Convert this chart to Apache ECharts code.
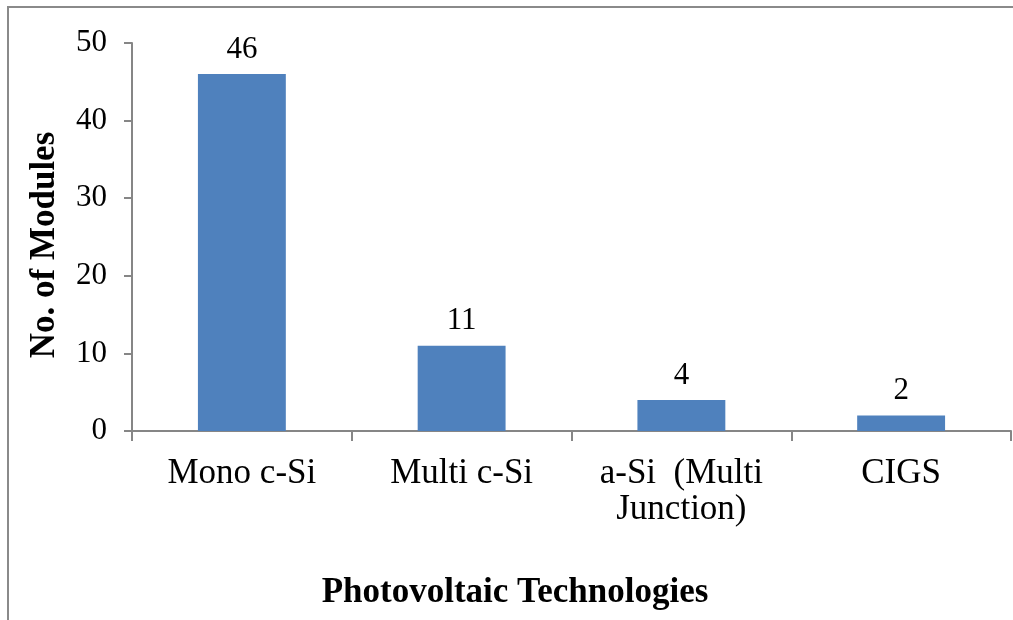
<!DOCTYPE html>
<html>
<head>
<meta charset="utf-8">
<script src="https://cdn.jsdelivr.net/npm/echarts@6/dist/echarts.min.js"></script>
<style>
html,body{margin:0;padding:0;background:#fff;}
#chart{width:1013px;height:620px;}
</style>
</head>
<body>
<div id="chart"></div>
<script>
const categories = ['Mono c-Si', 'Multi c-Si', 'a-Si  (Multi\nJunction)', 'CIGS'];
const moduleCounts = [46, 11, 4, 2];
const yTickValues = [0, 10, 20, 30, 40, 50];
const xTitle = 'Photovoltaic Technologies';
const yTitle = 'No. of Modules';

const FONT = 'Liberation Serif';
const chart = echarts.init(document.getElementById('chart'));
chart.setOption({
  animation: false,
  backgroundColor: '#ffffff',
  grid: { left: 132, right: 2, top: 43, bottom: 189, containLabel: false },
  xAxis: {
    type: 'category',
    data: categories,
    axisLine: { lineStyle: { color: '#868686', width: 2 } },
    axisTick: { show: true, length: 10, lineStyle: { color: '#868686', width: 2 } },
    axisLabel: { fontFamily: FONT, fontSize: 35, color: '#000', margin: 25, lineHeight: 36, interval: 0 }
  },
  yAxis: {
    type: 'value',
    min: yTickValues[0],
    max: yTickValues[yTickValues.length - 1],
    interval: 10,
    splitLine: { show: false },
    axisLine: { show: true, lineStyle: { color: '#868686', width: 2 } },
    axisTick: { show: true, length: 8, lineStyle: { color: '#868686', width: 2 } },
    axisLabel: { fontFamily: FONT, fontSize: 31, color: '#000', margin: 25 }
  },
  series: [{
    type: 'bar',
    data: moduleCounts,
    barWidth: '40%',
    itemStyle: { color: '#4F81BD' },
    label: { show: true, position: 'top', distance: 9, fontFamily: FONT, fontSize: 31, color: '#000' }
  }],
  graphic: [
    { type: 'rect', silent: true, shape: { x: 8, y: 7, width: 1200, height: 800 },
      style: { fill: 'none', stroke: '#8a8a8a', lineWidth: 2 } },
    { type: 'text', x: 515, y: 575, style: { text: xTitle, font: 'bold 35px "Liberation Serif"', fill: '#000', textAlign: 'center', textVerticalAlign: 'top' } },
    { type: 'text', x: 45, y: 245, rotation: Math.PI / 2, style: { text: yTitle, font: 'bold 35px "Liberation Serif"', fill: '#000', textAlign: 'center', textVerticalAlign: 'middle' } }
  ]
});
</script>
</body>
</html>
